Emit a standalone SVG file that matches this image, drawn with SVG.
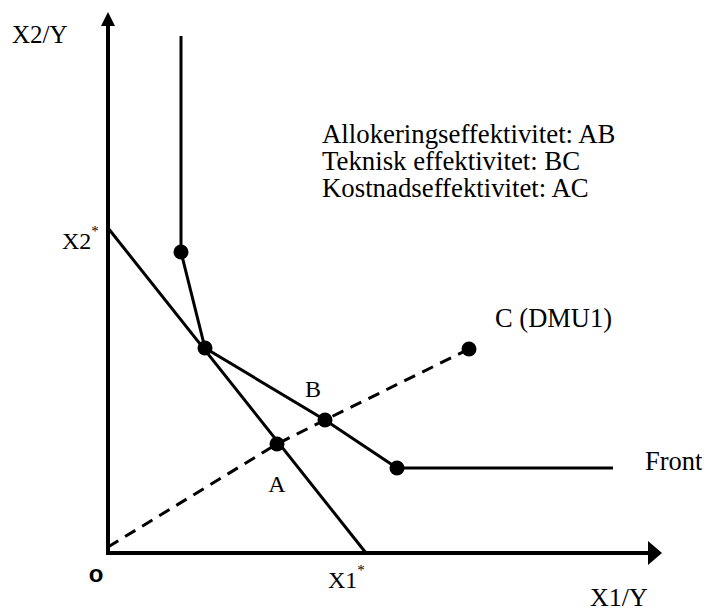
<svg xmlns="http://www.w3.org/2000/svg" width="708" height="611" viewBox="0 0 708 611">
<style>
.ln{stroke:#000;stroke-width:3;fill:none}
.ax{stroke:#000;stroke-width:4;fill:none}
.dash{stroke:#000;stroke-width:3;fill:none;stroke-dasharray:12,8}
.dot{fill:#000}
</style>
<rect width="708" height="611" fill="#fff"/>
<g id="axes">
<line class="ax" x1="108" y1="22" x2="108" y2="553"/>
<polygon points="108,12 101,26 115,26"/>
<line class="ax" x1="106" y1="553" x2="650" y2="553"/>
<polygon points="662,553 648,541 648,565"/>
</g>
<g id="connectors">
<line class="ln" x1="108" y1="228" x2="366" y2="553"/>
<polyline class="dash" points="108,547 277,444 325,420 469,349"/>
<polyline class="ln" points="181,36 181,252 205,348 325,420 397,468 613,468"/>
</g>
<g id="points">
<circle class="dot" cx="181" cy="252" r="7.5"/>
<circle class="dot" cx="205" cy="348" r="7.5"/>
<circle class="dot" cx="277" cy="444" r="7.5"/>
<circle class="dot" cx="325" cy="420" r="7.5"/>
<circle class="dot" cx="397" cy="468" r="7.5"/>
<circle class="dot" cx="469" cy="349" r="7.5"/>
</g>
<g id="labels" font-family="'Liberation Serif', 'Times New Roman', 'DejaVu Serif', serif" fill="#000">
<text x="12" y="43" font-size="25">X2/Y</text>
<text x="590" y="606" font-size="26">X1/Y</text>
<text x="96" y="582" font-family="'Liberation Sans', Arial, sans-serif" font-weight="bold" font-size="24" text-anchor="middle">o</text>
<text x="62" y="249" font-size="24">X2<tspan font-size="15" dy="-13">*</tspan></text>
<text x="328" y="588" font-size="24">X1<tspan font-size="15" dy="-13">*</tspan></text>
<text x="277" y="492" font-size="24" text-anchor="middle">A</text>
<text x="313" y="397" font-size="24" text-anchor="middle">B</text>
<text x="495" y="327" font-size="26.5">C (DMU1)</text>
<text x="645" y="470" font-size="26.5">Front</text>
</g>
<g id="legend" font-family="'Liberation Serif', 'Times New Roman', 'DejaVu Serif', serif" fill="#000">
<text x="322" y="143" font-size="26.8">Allokeringseffektivitet: AB</text>
<text x="322" y="170" font-size="26.8">Teknisk effektivitet: BC</text>
<text x="322" y="197" font-size="26.8">Kostnadseffektivitet: AC</text>
</g>
</svg>
